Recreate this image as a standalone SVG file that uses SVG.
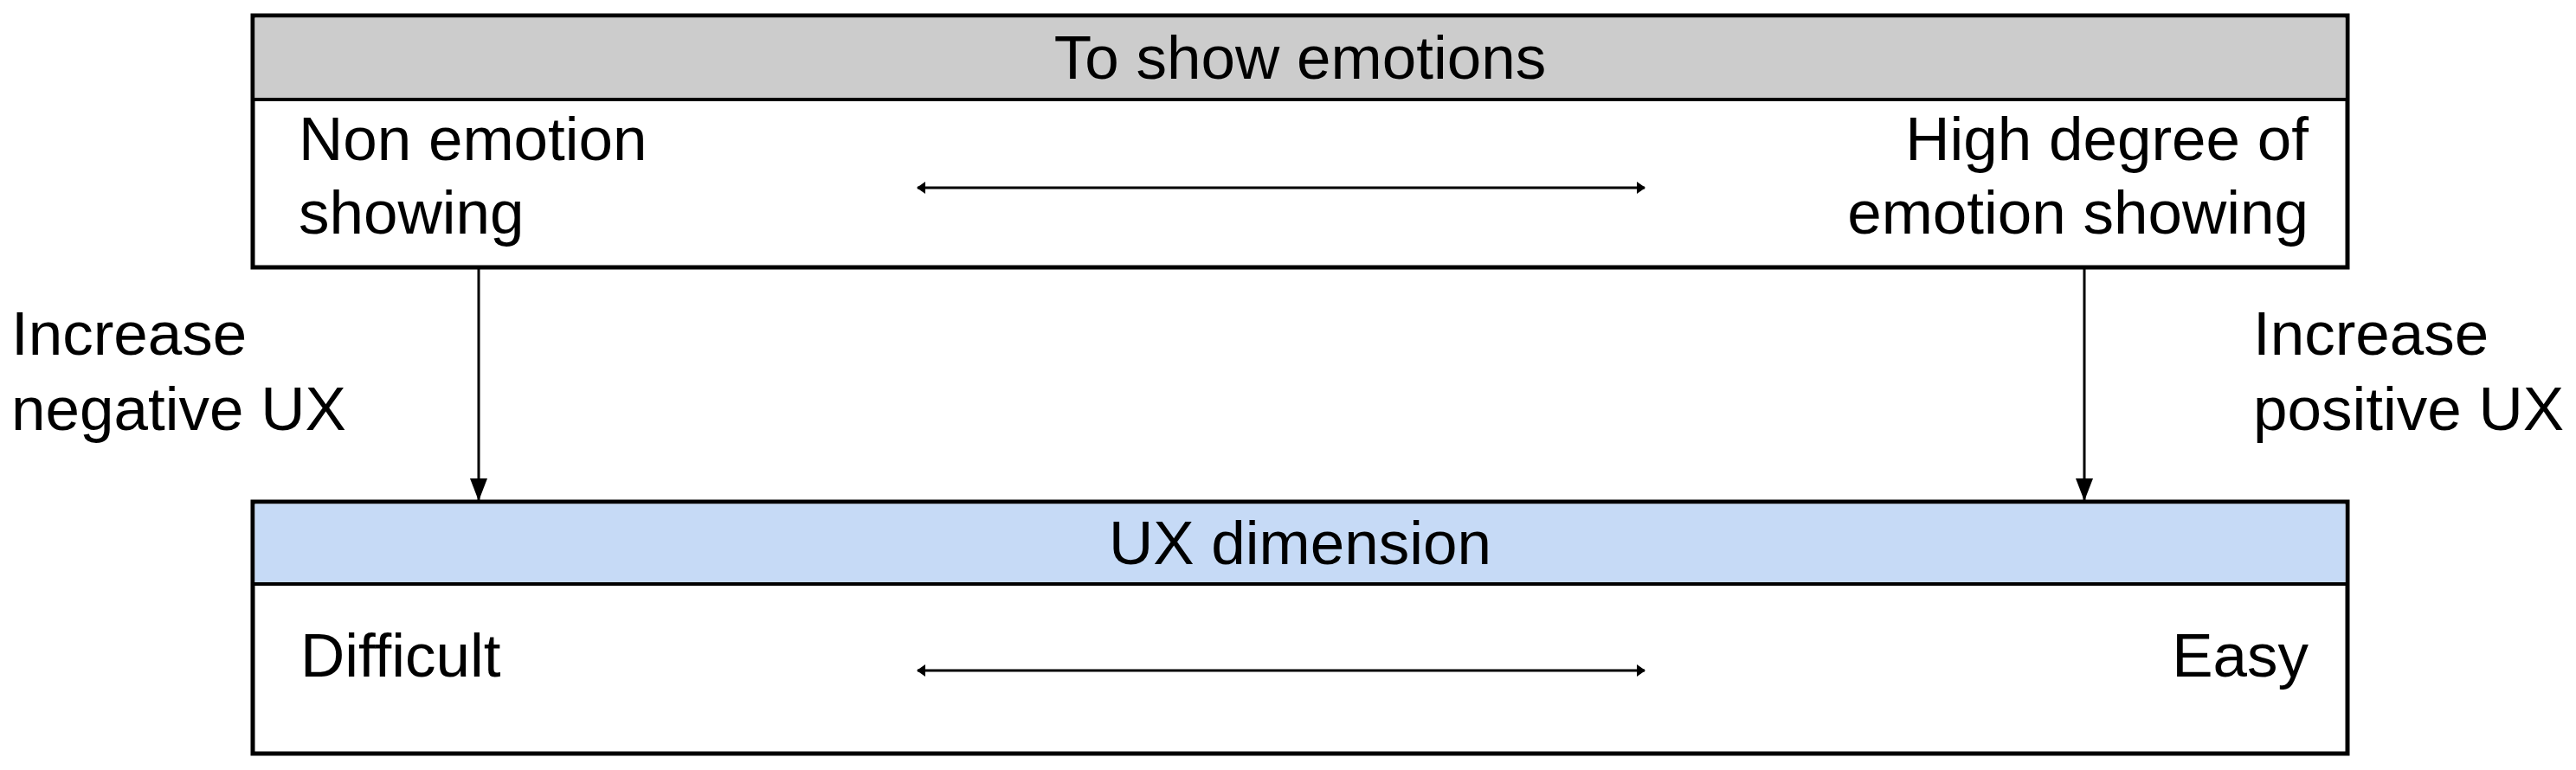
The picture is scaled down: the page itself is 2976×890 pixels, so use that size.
<svg xmlns="http://www.w3.org/2000/svg" width="2976" height="890" viewBox="0 0 2976 890">
<style>
text{font-family:"Liberation Sans",Arial,sans-serif;font-size:71px;fill:#000}
.box{fill:#fff;stroke:#000;stroke-width:5}
.sep{stroke:#000;stroke-width:4}
.con{stroke:#000;stroke-width:3;fill:none}
.mid{text-anchor:middle}
.end{text-anchor:end}
</style>
<defs>
<marker id="ah" markerWidth="8" markerHeight="8" refX="7" refY="4" orient="auto-start-reverse" markerUnits="userSpaceOnUse" viewBox="0 0 8 8">
<path d="M0,0 L8,4 L0,8 Z" fill="#000"/>
</marker>
<marker id="ahs" viewBox="0 0 10 14" refX="9" refY="7" markerWidth="10" markerHeight="14" orient="auto-start-reverse" markerUnits="userSpaceOnUse">
<path d="M0,0 L10,7 L0,14 Z" fill="#000"/>
</marker>
<marker id="ahv" viewBox="0 0 26 20" refX="26" refY="10" markerWidth="26" markerHeight="20" orient="auto" markerUnits="userSpaceOnUse">
<path d="M0,0 L26,10 L0,20 Z" fill="#000"/>
</marker>
</defs>
<g id="top-box">
<rect class="box" x="292" y="18" width="2420" height="291"/>
<rect x="294.5" y="20.5" width="2415" height="94" fill="#CCCCCC"/>
<line class="sep" x1="292" y1="115" x2="2712" y2="115"/>
<text class="mid" x="1502" y="91">To show emotions</text>
<text x="345" y="185">Non emotion</text>
<text x="345" y="270">showing</text>
<text class="end" x="2667" y="185">High degree of</text>
<text class="end" x="2667" y="270">emotion showing</text>
</g>
<g id="bottom-box">
<rect class="box" x="292" y="580" width="2420" height="291"/>
<rect x="294.5" y="582.5" width="2415" height="92" fill="#C6DAF6"/>
<line class="sep" x1="292" y1="675" x2="2712" y2="675"/>
<text class="mid" x="1502" y="652">UX dimension</text>
<text x="347" y="782">Difficult</text>
<text class="end" x="2667" y="782">Easy</text>
</g>
<g id="label-left">
<text x="13" y="410">Increase</text>
<text x="13" y="497">negative UX</text>
</g>
<g id="label-right">
<text x="2603" y="410">Increase</text>
<text x="2603" y="497">positive UX</text>
</g>
<g id="connectors">
<line class="con" x1="1060" y1="217" x2="1900" y2="217" marker-start="url(#ahs)" marker-end="url(#ahs)"/>
<line class="con" x1="1060" y1="775" x2="1900" y2="775" marker-start="url(#ahs)" marker-end="url(#ahs)"/>
<line class="con" x1="553" y1="311" x2="553" y2="579" marker-end="url(#ahv)"/>
<line class="con" x1="2408" y1="311" x2="2408" y2="579" marker-end="url(#ahv)"/>
</g>
</svg>
